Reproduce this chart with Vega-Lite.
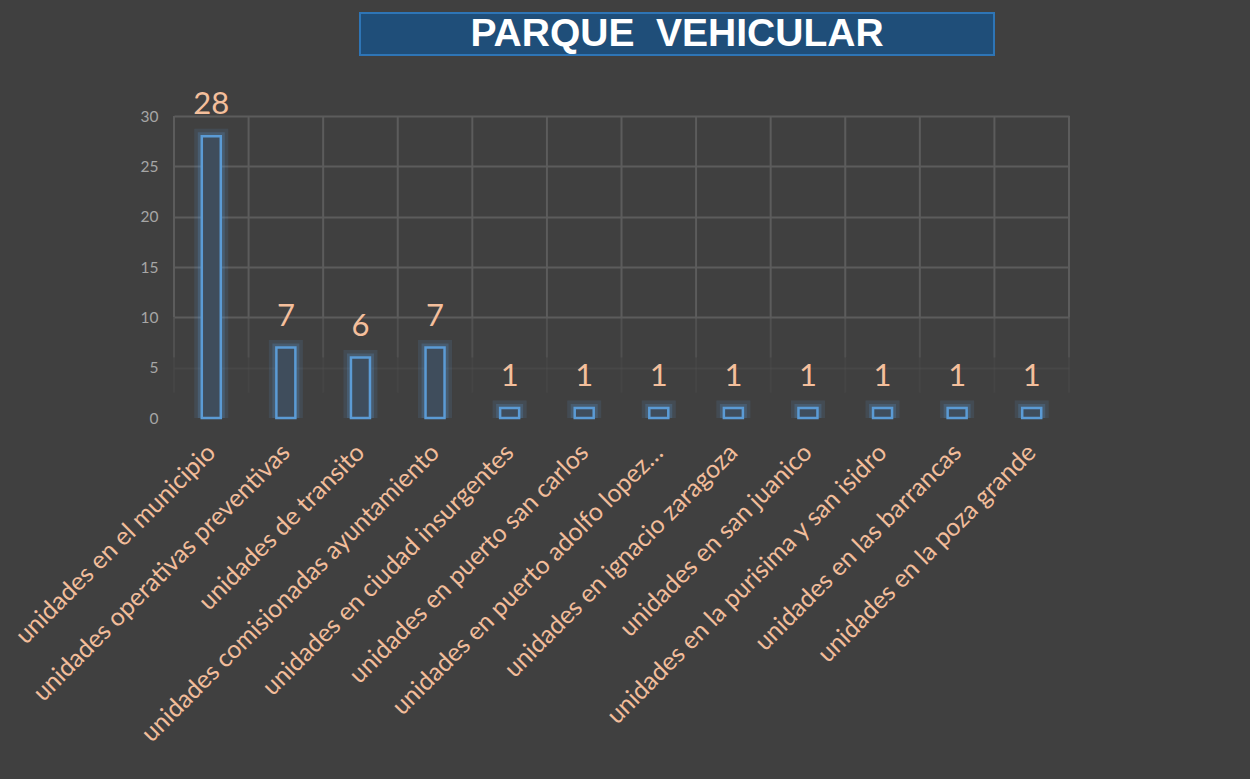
{
  "$schema": "https://vega.github.io/schema/vega-lite/v6.json",
  "background": "#404040",
  "padding": {"left": 11, "top": 12, "right": 180, "bottom": 40},
  "autosize": {"type": "pad"},
  "config": {"view": {"stroke": null}, "font": "Lato"},
  "datasets": {
    "main": [
      {"cat": "unidades en el municipio", "value": 28},
      {"cat": "unidades operativas preventivas", "value": 7},
      {"cat": "unidades de transito", "value": 6},
      {"cat": "unidades comisionadas ayuntamiento", "value": 7},
      {"cat": "unidades en ciudad insurgentes", "value": 1},
      {"cat": "unidades en puerto san carlos", "value": 1},
      {"cat": "unidades en puerto adolfo lopez…", "value": 1},
      {"cat": "unidades en ignacio zaragoza", "value": 1},
      {"cat": "unidades en san juanico", "value": 1},
      {"cat": "unidades en la purisima y san isidro", "value": 1},
      {"cat": "unidades en las barrancas", "value": 1},
      {"cat": "unidades en la poza grande", "value": 1}
    ],
    "title": [{"t": "PARQUE\u00a0\u00a0VEHICULAR"}]
  },
  "spacing": 103,
  "bounds": "flush",
  "vconcat": [
    {
      "spacing": 0,
      "bounds": "flush",
      "hconcat": [
        {
          "width": 186, "height": 42,
          "data": {"name": "title"},
          "mark": {"type": "point", "opacity": 0},
          "encoding": {}
        },
        {
          "width": 634, "height": 42,
          "view": {"fill": "#1f4e79", "stroke": "#2e75b6", "strokeWidth": 2},
          "data": {"name": "title"},
          "mark": {"type": "text", "font": "Liberation Sans", "fontWeight": "bold", "fontSize": 39, "color": "#ffffff", "baseline": "middle", "align": "center"},
          "encoding": {"text": {"field": "t"}}
        }
      ]
    },
    {
      "width": 895, "height": 302,
      "data": {"name": "main"},
      "layer": [
        {
          "mark": {"type": "rule", "color": "#5c5c5c", "strokeWidth": 2},
          "encoding": {
            "x": {"field": "cat", "type": "nominal", "sort": null, "bandPosition": 0},
            "y": {"datum": 30}, "y2": {"datum": 10}
          }
        },
        {
          "mark": {"type": "rule", "color": "#5c5c5c", "strokeWidth": 2, "opacity": 0.55},
          "encoding": {
            "x": {"field": "cat", "type": "nominal", "sort": null, "bandPosition": 0},
            "y": {"datum": 10}, "y2": {"datum": 6}
          }
        },
        {
          "mark": {"type": "rule", "color": "#5c5c5c", "strokeWidth": 2, "opacity": 0.2},
          "encoding": {
            "x": {"field": "cat", "type": "nominal", "sort": null, "bandPosition": 0},
            "y": {"datum": 6}, "y2": {"datum": 2.5}
          }
        },
        {
          "transform": [{"filter": "datum.cat == 'unidades en la poza grande'"}],
          "mark": {"type": "rule", "color": "#5c5c5c", "strokeWidth": 2},
          "encoding": {
            "x": {"field": "cat", "type": "nominal", "sort": null, "bandPosition": 1},
            "y": {"datum": 30}, "y2": {"datum": 10}
          }
        },
        {
          "transform": [{"filter": "datum.cat == 'unidades en la poza grande'"}],
          "mark": {"type": "rule", "color": "#5c5c5c", "strokeWidth": 2, "opacity": 0.55},
          "encoding": {
            "x": {"field": "cat", "type": "nominal", "sort": null, "bandPosition": 1},
            "y": {"datum": 10}, "y2": {"datum": 6}
          }
        },
        {
          "transform": [{"filter": "datum.cat == 'unidades en la poza grande'"}],
          "mark": {"type": "rule", "color": "#5c5c5c", "strokeWidth": 2, "opacity": 0.2},
          "encoding": {
            "x": {"field": "cat", "type": "nominal", "sort": null, "bandPosition": 1},
            "y": {"datum": 6}, "y2": {"datum": 2.5}
          }
        },
        {
          "mark": {"type": "bar", "size": 19, "fill": null, "stroke": "#5b9bd5", "strokeWidth": 15, "strokeOpacity": 0.13, "clip": true},
          "encoding": {
            "x": {"field": "cat", "type": "nominal", "sort": null},
            "y": {"field": "value", "type": "quantitative"}
          }
        },
        {
          "mark": {"type": "bar", "size": 19, "fill": null, "stroke": "#5b9bd5", "strokeWidth": 8, "strokeOpacity": 0.22, "clip": true},
          "encoding": {
            "x": {"field": "cat", "type": "nominal", "sort": null},
            "y": {"field": "value", "type": "quantitative"}
          }
        },
        {
          "mark": {"type": "bar", "size": 19, "fill": "#3f4d5c", "stroke": "#5b9bd5", "strokeWidth": 2.5},
          "encoding": {
            "x": {
              "field": "cat", "type": "nominal", "sort": null,
              "scale": {"paddingInner": 0, "paddingOuter": 0},
              "axis": {
                "title": null, "labelAngle": -45, "labelAlign": "right", "labelBaseline": "middle",
                "labelFont": "Lato", "labelFontSize": 25, "labelColor": "#f2bd9b",
                "labelPadding": 30, "labelLimit": 0, "labelOverlap": false,
                "ticks": false, "domain": false, "grid": false
              }
            },
            "y": {
              "field": "value", "type": "quantitative",
              "scale": {"domain": [0, 30], "nice": false},
              "axis": {
                "title": null, "values": [0, 5, 10, 15, 20, 25, 30],
                "ticks": false, "domain": false, "grid": true,
                "labelColor": "#a6a6a6", "labelFont": "Lato", "labelFontSize": 15.5, "labelPadding": 16,
                "gridColor": {"condition": {"test": "datum.value == 5", "value": "#474747"}, "value": "#5c5c5c"},
                "gridWidth": 2,
                "gridOpacity": {"condition": {"test": "datum.value == 0", "value": 0}, "value": 1}
              }
            }
          }
        },
        {
          "mark": {"type": "text", "font": "Lato", "fontSize": 31, "color": "#f4bf9c", "baseline": "alphabetic", "dy": -22},
          "encoding": {
            "x": {"field": "cat", "type": "nominal", "sort": null},
            "y": {"field": "value", "type": "quantitative"},
            "text": {"field": "value", "type": "quantitative"}
          }
        }
      ]
    }
  ]
}
